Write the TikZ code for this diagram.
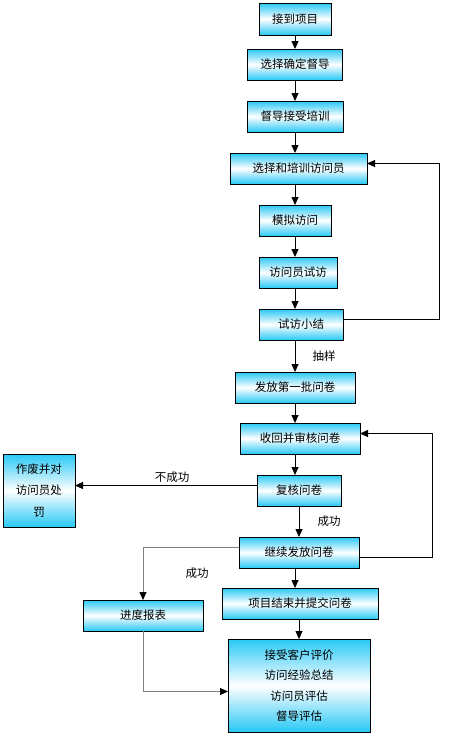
\documentclass[tikz,border=0pt]{standalone}
\usepackage{fontspec}
\newfontfamily\cjk{Noto Sans CJK SC}
\usetikzlibrary{arrows.meta,positioning,calc}
\definecolor{boxcyan}{RGB}{40,200,245}
\definecolor{linkgray}{RGB}{130,130,130}
\tikzset{
 stepbox/.style={rectangle,draw=black,line width=0.9pt,outer sep=0pt,top color=boxcyan,bottom color=boxcyan,middle color=white,minimum height=31pt,inner sep=2pt,align=center,font=\cjk\fontsize{11.5}{14}\selectfont},
 arrow/.style={-{Triangle[length=8pt,width=7pt]},line width=0.8pt,draw=black},
 grayarrow/.style={-{Triangle[length=8pt,width=7pt,color=black]},line width=0.8pt,draw=linkgray},
 lbl/.style={font=\cjk\fontsize{11.5}{14}\selectfont}}
\begin{document}
\begin{tikzpicture}
\useasboundingbox (0,0) rectangle (454pt,-739pt);
\node[stepbox,minimum width=72pt,minimum height=32pt] (start) at (295pt,-19pt) {接到项目};
\node[stepbox,minimum width=95pt,below=14pt of start] (sup) {选择确定督导};
\node[stepbox,minimum width=96pt,below=21pt of sup] (train) {督导接受培训};
\node[stepbox,minimum width=137pt,below=21pt of train,xshift=3.5pt] (recruit) {选择和培训访问员};
\node[stepbox,minimum width=72pt,below=21pt of recruit,xshift=-3.5pt] (mock) {模拟访问};
\node[stepbox,minimum width=78pt,below=21pt of mock,xshift=3pt] (pilot) {访问员试访};
\node[stepbox,minimum width=84pt,below=21pt of pilot,xshift=3pt] (summary) {试访小结};
\node[stepbox,minimum width=120pt,below=32pt of summary,xshift=-6pt] (first) {发放第一批问卷};
\node[stepbox,minimum width=120pt,below=20pt of first,xshift=5pt] (collect) {收回并审核问卷};
\node[stepbox,minimum width=84pt,below=21pt of collect,xshift=-1pt] (check) {复核问卷};
\node[stepbox,minimum width=120pt,below=31pt of check] (cont) {继续发放问卷};
\node[stepbox,minimum width=156pt,below=20pt of cont,xshift=1pt] (finish) {项目结束并提交问卷};
\node[stepbox,minimum width=142pt,minimum height=93pt,below=20pt of finish,xshift=-1pt,
 font=\cjk\fontsize{11.5}{20.5}\selectfont] (eval) {接受客户评价\\访问经验总结\\访问员评估\\督导评估};
\node[stepbox,minimum width=72pt,minimum height=73pt,left=182pt of check,
 font=\cjk\fontsize{11.5}{21.5}\selectfont] (void) {作废并对\\访问员处\\罚};
\node[stepbox,minimum width=120pt] (report) at (143pt,-615.5pt) {进度报表};
% main line
\draw[arrow] (start) -- (sup);
\draw[arrow] (sup) -- (sup |- train.north);
\draw[arrow] (train) -- (train |- recruit.north);
\draw[arrow] (mock |- recruit.south) -- (mock);
\draw[arrow] (mock) -- (mock |- pilot.north);
\draw[arrow] (mock |- pilot.south) -- (mock |- summary.north);
\draw[arrow] (first |- summary.south) -- node[lbl,right=14pt]{抽样} (first);
\draw[arrow] (first) -- (first |- collect.north);
\draw[arrow] (first |- collect.south) -- (first |- check.north);
\draw[arrow] (check) -- node[lbl,right=15pt]{成功} (check |- cont.north);
\draw[arrow] (first |- cont.south) -- (first |- finish.north);
\draw[arrow] (eval |- finish.south) -- (eval);
% loops back
\draw[arrow] ([yshift=5pt]summary.east) -- ++(96pt,0) |- ([yshift=5pt]recruit.east);
\draw[arrow] ([yshift=-5pt]cont.east) -- ++(73pt,0) |- ([yshift=5pt]collect.east);
\draw[arrow] ([yshift=5pt]check.west) -- node[lbl,above=-1pt,xshift=6pt]{不成功} ([yshift=5pt]void.east);
% progress report
\draw[grayarrow] ([yshift=5pt]cont.west) -| node[lbl,pos=0.25,below=17pt,xshift=6pt,text=black]{成功} (report.north);
\draw[grayarrow] (report) |- ([yshift=-6pt]eval.west);
\end{tikzpicture}
\end{document}
